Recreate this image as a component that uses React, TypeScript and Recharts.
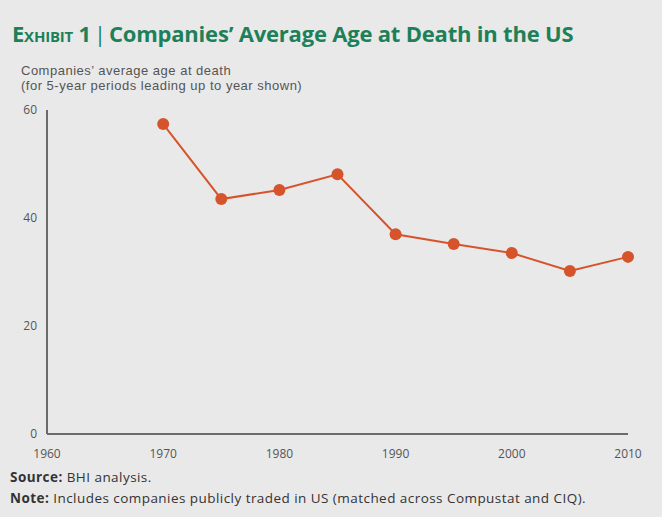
import { LineChart, Line, XAxis, YAxis } from 'recharts';

const YEARS = [1970, 1975, 1980, 1985, 1990, 1995, 2000, 2005, 2010];
const AGES = [57.4, 43.5, 45.2, 48.1, 37.0, 35.2, 33.5, 30.2, 32.8];
const X_TICKS = [1960, 1970, 1980, 1990, 2000, 2010];
const Y_TICKS = [0, 20, 40, 60];

const GREEN = '#1d8059';
const ORANGE = '#d6542b';
const AXIS = '#6b6b6b';
const FONT = '"Open Sans", sans-serif';

const data = YEARS.map((year, i) => ({ year, age: AGES[i] }));

const subStyle = {
  position: 'absolute' as const, left: 21, color: '#555', fontFamily: '"Liberation Sans", sans-serif',
  fontSize: 13, lineHeight: '15px', letterSpacing: 0.5, whiteSpace: 'nowrap' as const,
};

export default function App() {
  return (
    <div style={{ position: 'absolute', left: 0, top: 0, width: 662, height: 517, background: '#e9e9ea', fontFamily: FONT, overflow: 'hidden' }}>
      <div style={{ position: 'absolute', left: 12, top: 18, color: GREEN, fontWeight: 700, fontSize: 22, whiteSpace: 'nowrap', letterSpacing: -0.2 }}>
        <span style={{ fontVariant: 'small-caps' }}>Exhibit 1</span>
        <span style={{ fontWeight: 400, margin: '0 3px' }}>|</span>
        Companies’ Average Age at Death in the US
      </div>
      <div style={{ ...subStyle, top: 63 }}>Companies’ average age at death</div>
      <div style={{ ...subStyle, top: 78 }}>(for 5-year periods leading up to year shown)</div>

      <div style={{ position: 'absolute', left: 0, top: 0 }}>
        <LineChart width={662} height={517} data={data} margin={{ top: 110, right: 34, bottom: 53, left: 0 }}>
          <XAxis
            dataKey="year"
            type="number"
            domain={[1960, 2010]}
            ticks={X_TICKS}
            height={30}
            tickLine={false}
            tickMargin={9}
            stroke={AXIS}
            strokeWidth={2}
            tick={{ fill: '#555', fontSize: 12, fontFamily: FONT }}
          />
          <YAxis
            type="number"
            domain={[0, 60]}
            ticks={Y_TICKS}
            width={47}
            tickLine={false}
            tickMargin={4}
            stroke={AXIS}
            strokeWidth={2}
            tick={{ fill: '#555', fontSize: 12, fontFamily: FONT }}
          />
          <Line
            dataKey="age"
            stroke={ORANGE}
            strokeWidth={2}
            dot={{ r: 6, fill: ORANGE, stroke: ORANGE, strokeWidth: 0 }}
            isAnimationActive={false}
          />
        </LineChart>
      </div>

      <div style={{ position: 'absolute', left: 10, top: 467, color: '#333', fontSize: 13.5, lineHeight: '21px', letterSpacing: 0.45, whiteSpace: 'nowrap' }}>
        <div><b>Source:</b> BHI analysis.</div>
        <div><b>Note:</b> Includes companies publicly traded in US (matched across Compustat and CIQ).</div>
      </div>
    </div>
  );
}
